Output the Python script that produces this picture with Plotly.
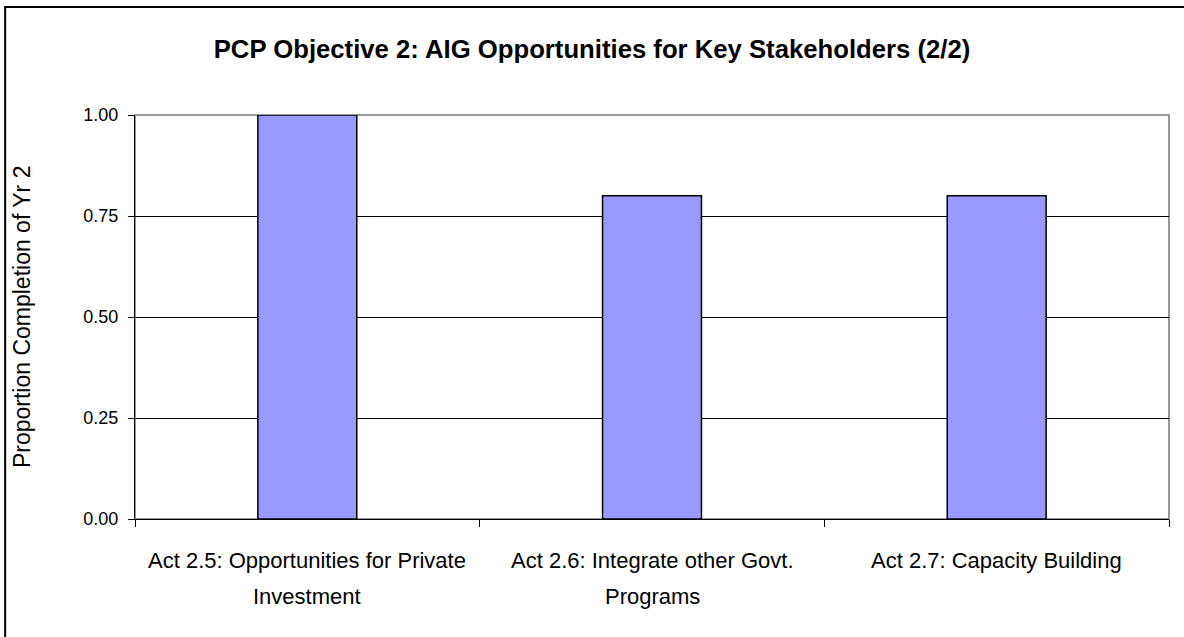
import plotly.graph_objects as go

# data
activities = [
    "Act 2.5: Opportunities for Private<br>Investment",
    "Act 2.6: Integrate other Govt.<br>Programs",
    "Act 2.7: Capacity Building",
]
completion = [1.00, 0.80, 0.80]
y_ticks = [0, 0.25, 0.5, 0.75, 1.0]

title = "PCP Objective 2: AIG Opportunities for Key Stakeholders (2/2)"
y_title = "Proportion Completion of Yr 2"

font = "Liberation Sans, Arial"

fig = go.Figure(
    go.Bar(
        x=activities,
        y=completion,
        marker=dict(color="#9999FF", line=dict(color="black", width=1.5)),
        hoverinfo="y",
    )
)

fig.update_layout(
    width=1184,
    height=637,
    margin=dict(l=135, r=15, t=115, b=118),
    paper_bgcolor="white",
    plot_bgcolor="white",
    bargap=0.713,
    showlegend=False,
    title=dict(
        text="<b>" + title + "</b>",
        x=0.5,
        xanchor="center",
        y=1 - 49 / 637,
        yanchor="middle",
        font=dict(family=font, size=25.7, color="black"),
    ),
)

fig.update_xaxes(
    showline=True,
    linecolor="black",
    linewidth=1,
    ticks="outside",
    tickson="boundaries",
    ticklen=7,
    tickcolor="black",
    showgrid=False,
    showticklabels=False,
)

fig.update_yaxes(
    range=[0, 1],
    tickvals=y_ticks,
    tickformat=".2f",
    showline=True,
    linecolor="black",
    linewidth=1,
    ticks="outside",
    ticklen=6,
    tickcolor="black",
    ticklabelstandoff=6,
    gridcolor="black",
    gridwidth=1,
    zeroline=False,
    tickfont=dict(family=font, size=18, color="black"),
)

# grey plot area frame
fig.add_shape(type="rect", xref="paper", yref="paper", x0=0, x1=1, y0=0, y1=1,
              line=dict(color="#999999", width=2), layer="between")
# outer chart border (runs off the right and bottom edges)
fig.add_shape(type="rect", xref="paper", yref="paper",
              x0=(5 - 135) / 1035, x1=1.05, y0=-0.4, y1=(519 - 7) / 404,
              line=dict(color="black", width=2))

# category labels, one annotation per line for Excel-like line spacing
line_y = [(519 - 560) / 404, (519 - 596) / 404]
for cat in activities:
    for i, part in enumerate(cat.split("<br>")):
        fig.add_annotation(
            text=part, x=cat, xref="x", y=line_y[i], yref="paper",
            showarrow=False, xanchor="center", yanchor="middle",
            font=dict(family=font, size=22, color="black"),
        )

fig.add_annotation(
    text=y_title, textangle=-90, showarrow=False,
    xref="paper", yref="paper", x=(22 - 135) / 1035, y=0.5,
    xanchor="center", yanchor="middle",
    font=dict(family=font, size=23, color="black"),
)

fig.write_html("out.html", config={"displayModeBar": False},
               post_script="document.body.style.margin='0';")
